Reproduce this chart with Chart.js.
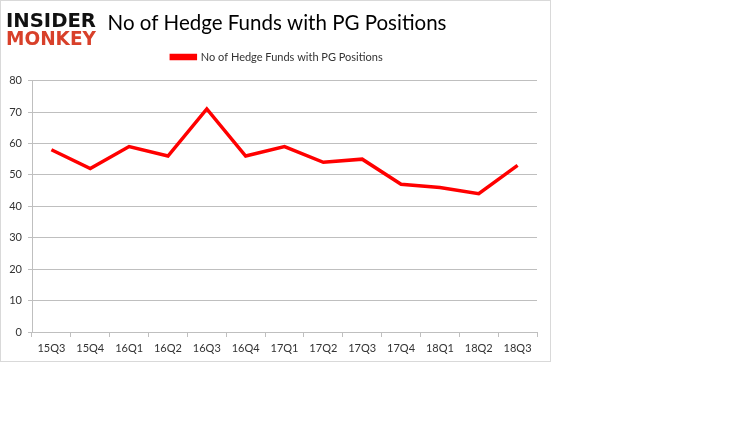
<!DOCTYPE html>
<html>
<head>
<meta charset="utf-8">
<script src="https://cdn.jsdelivr.net/npm/chart.js@4.4.0/dist/chart.umd.min.js"></script>
<style>
  html, body { margin: 0; padding: 0; background: #fff; }
  #frame { position: absolute; left: 0; top: 0; width: 549px; height: 360px; border: 1px solid #d9d9d9; }
  #c { position: absolute; left: 0; top: 0; }
  .logo { position: absolute; left: 5px; font-family: "DejaVu Sans", sans-serif; font-weight: bold; font-size: 20px; letter-spacing: 0px; line-height: 18px; transform-origin: left top; }
  #l1 { top: 10px; color: #111; }
  #l2 { top: 28px; color: #d8402a; }
</style>
</head>
<body>
<div id="frame">
  <canvas id="c" width="549" height="360"></canvas>
  <div class="logo" id="l1">INSIDER</div>
  <div class="logo" id="l2">MONKEY</div>
</div>
<script>
const categories = ["15Q3","15Q4","16Q1","16Q2","16Q3","16Q4","17Q1","17Q2","17Q3","17Q4","18Q1","18Q2","18Q3"];
const hedgeFunds = [58, 52, 59, 56, 71, 56, 59, 54, 55, 47, 46, 44, 53];
const seriesName = "No of Hedge Funds with PG Positions";
const chartTitle = "No of Hedge Funds with PG Positions";

for (const id of ["l1","l2"]) {
  const el = document.getElementById(id);
  const w = el.getBoundingClientRect().width;
  el.style.transform = "scaleX(" + (90 / w) + ")";
}

const FONT = "Lato, 'Open Sans', sans-serif";
const chart = new Chart(document.getElementById("c"), {
  type: "line",
  data: {
    labels: categories,
    datasets: [{
      label: seriesName,
      data: hedgeFunds,
      borderColor: "#ff0000",
      backgroundColor: "#ff0000",
      borderWidth: 3.5,
      pointRadius: 0,
      tension: 0,
      fill: false,
      yAxisID: "y"
    }]
  },
  options: {
    responsive: false,
    animation: false,
    layout: { padding: { left: 3, right: 0, top: 10, bottom: 0 } },
    plugins: {
      title: {
        display: true,
        text: chartTitle,
        color: "#000",
        font: { family: FONT, size: 20.5, weight: "normal" },
        padding: { top: 0, bottom: 2 }
      },
      legend: {
        display: true,
        labels: {
          color: "#333",
          font: { family: FONT, size: 11 },
          boxWidth: 24,
          boxHeight: 3,
          padding: 14
        }
      },
      tooltip: { enabled: false }
    },
    scales: {
      x: {
        offset: true,
        grid: { display: true, drawOnChartArea: false, drawTicks: true, tickLength: 5, offset: true, color: "#bfbfbf" },
        border: { display: true, color: "#bfbfbf" },
        ticks: { color: "#333", font: { family: FONT, size: 11 }, maxRotation: 0, padding: 5 },
        afterFit: s => { s.height = 29; }
      },
      y: {
        min: 0, max: 80,
        ticks: { stepSize: 10, color: "#333", font: { family: FONT, size: 11 }, padding: 6 },
        grid: { color: "#bfbfbf", tickLength: 4 },
        border: { display: true, color: "#bfbfbf" },
        afterFit: s => { s.width = 28; }
      },
      yRight: {
        type: "linear",
        position: "right",
        display: true,
        min: 0, max: 80,
        grid: { display: false, drawOnChartArea: false },
        border: { display: false },
        ticks: { display: false },
        afterFit: s => { s.width = 13; }
      }
    }
  }
});
// add space between legend and plot area
const origFit = chart.legend.fit.bind(chart.legend);
chart.legend.fit = function () { origFit(); this.height += 8; };
chart.update();
</script>
</body>
</html>
